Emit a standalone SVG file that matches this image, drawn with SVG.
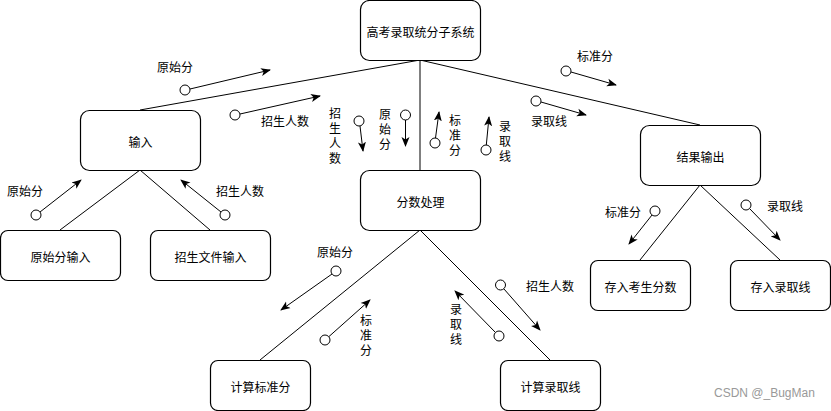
<svg xmlns="http://www.w3.org/2000/svg" width="831" height="411" viewBox="0 0 831 411">
<style>
.box{fill:#fff;stroke:#000;stroke-width:1.2}
.t{font-family:"Noto Sans CJK SC","Liberation Sans",sans-serif;font-size:12px;fill:#000;text-anchor:middle;dominant-baseline:central}
.v{font-family:"Noto Sans CJK SC","Liberation Sans",sans-serif;font-size:12px;fill:#000;writing-mode:vertical-rl;text-anchor:start;letter-spacing:3px}
.edge{stroke:#000;stroke-width:1;fill:none}
.flow{stroke:#000;stroke-width:1;fill:none;marker-end:url(#ah)}
.c{fill:#fff;stroke:#000;stroke-width:1}
.wm{font-family:"Liberation Sans",sans-serif;font-size:12px;fill:#999}
</style>
<defs>
<marker id="ah" viewBox="0 0 10 10" refX="9" refY="5" markerWidth="10" markerHeight="10" markerUnits="userSpaceOnUse" orient="auto">
<path d="M0,1 L10,5 L0,9 L2.5,5 Z" fill="#000"/>
</marker>
</defs>
<rect width="831" height="411" fill="#fff"/>
<g id="connectors">
<path class="edge" d="M420,60 L140,110"/>
<path class="edge" d="M420,60 L420,170"/>
<path class="edge" d="M420,60 L700,125"/>
<path class="edge" d="M140,170 L60,230"/>
<path class="edge" d="M140,170 L210,230"/>
<path class="edge" d="M420,230 L260,360"/>
<path class="edge" d="M420,230 L550,360"/>
<path class="edge" d="M700,185 L640,260"/>
<path class="edge" d="M700,185 L780,260"/>
</g>
<g id="flows">
<g id="f1"><line class="flow" x1="190" y1="89" x2="270" y2="70"/><circle class="c" cx="185" cy="90" r="5"/><text class="t" x="175" y="66">原始分</text></g>
<g id="f2"><line class="flow" x1="240" y1="114" x2="320" y2="96"/><circle class="c" cx="235" cy="115" r="5"/><text class="t" x="285" y="120">招生人数</text></g>
<g id="f3"><line class="flow" x1="360" y1="126" x2="363" y2="151"/><circle class="c" cx="359" cy="121" r="5"/>
<text class="v" x="335" y="107">招生人数</text></g>
<g id="f4"><line class="flow" x1="405.5" y1="120" x2="405.5" y2="146"/><circle class="c" cx="405.5" cy="115" r="5"/>
<text class="v" x="385" y="108">原始分</text></g>
<g id="f5"><line class="flow" x1="435.5" y1="138" x2="439" y2="112"/><circle class="c" cx="435" cy="143" r="5"/>
<text class="v" x="455" y="114">标准分</text></g>
<g id="f6"><line class="flow" x1="486.3" y1="145" x2="489" y2="117"/><circle class="c" cx="486" cy="150" r="5"/>
<text class="v" x="505" y="120">录取线</text></g>
<g id="f7"><line class="flow" x1="571" y1="72" x2="616" y2="85"/><circle class="c" cx="566" cy="71" r="5"/><text class="t" x="595" y="55">标准分</text></g>
<g id="f8"><line class="flow" x1="541" y1="102" x2="586" y2="115"/><circle class="c" cx="536" cy="101" r="5"/><text class="t" x="549" y="120">录取线</text></g>
<g id="f9"><line class="flow" x1="40" y1="212" x2="81" y2="180"/><circle class="c" cx="36" cy="215" r="5"/><text class="t" x="25" y="190">原始分</text></g>
<g id="f10"><line class="flow" x1="221" y1="212" x2="181" y2="180"/><circle class="c" cx="225" cy="215" r="5"/><text class="t" x="240" y="190">招生人数</text></g>
<g id="f11"><line class="flow" x1="332" y1="274" x2="281" y2="310"/><circle class="c" cx="336" cy="271" r="5"/><text class="t" x="335" y="251">原始分</text></g>
<g id="f12"><line class="flow" x1="329" y1="336.5" x2="370" y2="300"/><circle class="c" cx="325" cy="340" r="5"/>
<text class="v" x="366" y="314">标准分</text></g>
<g id="f13"><line class="flow" x1="495.5" y1="332.5" x2="455" y2="291"/><circle class="c" cx="499" cy="336" r="5"/>
<text class="v" x="456" y="303">录取线</text></g>
<g id="f14"><line class="flow" x1="504" y1="289" x2="540" y2="330"/><circle class="c" cx="500.5" cy="285" r="5"/><text class="t" x="550" y="285">招生人数</text></g>
<g id="f15"><line class="flow" x1="652" y1="215" x2="629" y2="244"/><circle class="c" cx="655" cy="211" r="5"/><text class="t" x="623" y="211">标准分</text></g>
<g id="f16"><line class="flow" x1="749.5" y1="208.5" x2="780" y2="240"/><circle class="c" cx="746" cy="205" r="5"/><text class="t" x="785" y="205">录取线</text></g>
</g>
<g id="n-root"><rect class="box" x="360.5" y="0.5" width="120" height="60" rx="9"/><text class="t" x="420.5" y="31">高考录取统分子系统</text></g>
<g id="n-input"><rect class="box" x="80.5" y="110.5" width="120" height="60" rx="9"/><text class="t" x="140.5" y="141">输入</text></g>
<g id="n-proc"><rect class="box" x="360.5" y="170.5" width="120" height="60" rx="9"/><text class="t" x="420.5" y="201">分数处理</text></g>
<g id="n-out"><rect class="box" x="640.5" y="125.5" width="120" height="60" rx="9"/><text class="t" x="700.5" y="156">结果输出</text></g>
<g id="n-raw"><rect class="box" x="0.5" y="230.5" width="120" height="50" rx="7.5"/><text class="t" x="60.5" y="256">原始分输入</text></g>
<g id="n-file"><rect class="box" x="150.5" y="230.5" width="120" height="50" rx="7.5"/><text class="t" x="210.5" y="256">招生文件输入</text></g>
<g id="n-std"><rect class="box" x="210.5" y="360.5" width="100" height="50" rx="7.5"/><text class="t" x="260.5" y="386">计算标准分</text></g>
<g id="n-line"><rect class="box" x="500.5" y="360.5" width="100" height="50" rx="7.5"/><text class="t" x="550.5" y="386">计算录取线</text></g>
<g id="n-save1"><rect class="box" x="590.5" y="260.5" width="100" height="50" rx="7.5"/><text class="t" x="640.5" y="286">存入考生分数</text></g>
<g id="n-save2"><rect class="box" x="730.5" y="260.5" width="100" height="50" rx="7.5"/><text class="t" x="780.5" y="286">存入录取线</text></g>
<text class="wm" x="714" y="397">CSDN @_BugMan</text>
</svg>
